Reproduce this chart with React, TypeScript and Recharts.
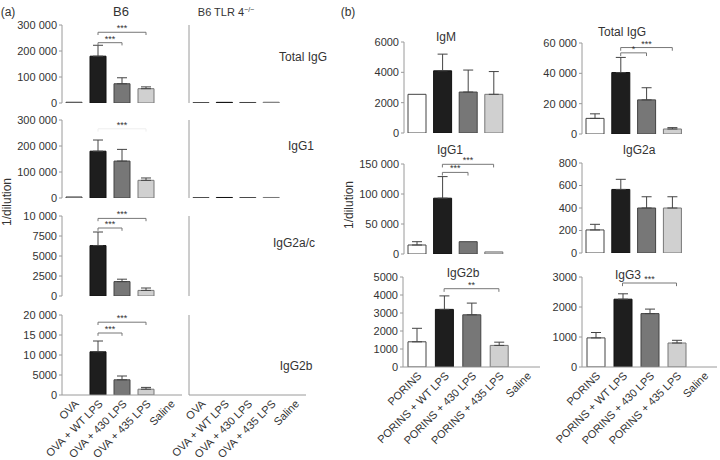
import React from 'react';
import { BarChart, Bar, XAxis, YAxis, Cell, ErrorBar, ReferenceLine } from 'recharts';

const ovaGroups = ['OVA', 'OVA + WT LPS', 'OVA + 430 LPS', 'OVA + 435 LPS', 'Saline'];
const porinGroups = ['PORINS', 'PORINS + WT LPS', 'PORINS + 430 LPS', 'PORINS + 435 LPS', 'Saline'];

// panel (a) - B6
const b6TotalIgG = [3000, 180000, 74000, 55000, 0];
const b6TotalIgGErr = [0, 42000, 23000, 7000, 0];
const b6IgG1 = [4000, 180000, 142000, 68000, 0];
const b6IgG1Err = [0, 43000, 45000, 9000, 0];
const b6IgG2ac = [0, 6300, 1800, 700, 0];
const b6IgG2acErr = [0, 1700, 300, 300, 0];
const b6IgG2b = [0, 10800, 3800, 1450, 0];
const b6IgG2bErr = [0, 2700, 950, 450, 0];

// panel (a) - B6 TLR4-/-
const tlrTotalIgG = [1500, 2500, 2000, 3000, 0];
const tlrIgG1 = [1500, 2000, 1500, 2000, 0];
const tlrIgG2ac = [0, 0, 0, 0, 0];
const tlrIgG2b = [0, 0, 0, 0, 0];
const noErr = [0, 0, 0, 0, 0];

// panel (b)
const pIgM = [2550, 4100, 2700, 2550, 0];
const pIgMErr = [0, 1100, 1450, 1500, 0];
const pTotalIgG = [10300, 40500, 22500, 3300, 0];
const pTotalIgGErr = [3000, 10000, 8000, 900, 0];
const pIgG1 = [15000, 93000, 20500, 3500, 0];
const pIgG1Err = [5500, 36000, 0, 0, 0];
const pIgG2a = [205, 565, 400, 400, 0];
const pIgG2aErr = [50, 90, 100, 100, 0];
const pIgG2b = [1400, 3200, 2900, 1200, 0];
const pIgG2bErr = [750, 750, 650, 180, 0];
const pIgG3 = [970, 2260, 1780, 800, 0];
const pIgG3Err = [180, 180, 150, 90, 0];

const fills = ['#ffffff', '#1e1e1e', '#777777', '#d0d0d0', '#ffffff'];
const strokes = ['#444444', '#111111', '#444444', '#777777', '#444444'];
const axisColor = '#9a9a9a';
const font = '"Liberation Sans", Arial, Helvetica, sans-serif';

type Bracket = { from: number; to: number; y: number; label: string; color?: string };

const fmt = (v: number) => (v >= 10000 ? String(v).replace(/\B(?=(\d{3})+(?!\d))/g, ' ') : String(v));

function Plot(props: {
  x: number; y: number; w: number; h: number;
  groups: string[]; values: number[]; errs: number[];
  max: number; ticks: number[]; showY?: boolean; showX?: boolean; xH?: number;
  barSize: number; brackets?: Bracket[];
}) {
  const { x, y, w, h, groups, values, errs, max, ticks, showY = true, showX = false, xH = 62, barSize, brackets = [] } = props;
  const yW = 60;
  const mt = 20;
  const bottom = showX ? xH : 0;
  const data = groups.map((name, i) => ({
    name,
    value: values[i],
    err: errs[i] > 0 ? [0, errs[i]] : null,
  }));
  const tick = max * 0.035;
  return (
    <div style={{ position: 'absolute', left: x - yW, top: y - mt }}>
      <BarChart width={yW + w} height={mt + h + bottom + 6} data={data} margin={{ top: mt, right: 0, left: 0, bottom: 6 }}>
        <XAxis
          dataKey="name"
          interval={0}
          height={bottom}
          axisLine={{ stroke: axisColor }}
          tickLine={false}
          tickSize={3}
          tickMargin={1}
          angle={-45}
          textAnchor="end"
          tick={showX ? { fontSize: 11, fill: '#333', fontFamily: font } : false}
        />
        <YAxis
          width={yW}
          domain={[0, max]}
          ticks={ticks}
          interval={0}
          tickFormatter={fmt}
          tickSize={3}
          tickMargin={2}
          axisLine={{ stroke: axisColor }}
          tickLine={{ stroke: axisColor }}
          tick={showY ? { fontSize: 11, fill: '#333', fontFamily: font } : false}
          allowDataOverflow
        />
        <Bar dataKey="value" barSize={barSize} isAnimationActive={false}>
          {data.map((d, i) => (
            <Cell key={d.name} fill={fills[i]} stroke={strokes[i]} strokeWidth={1} />
          ))}
          <ErrorBar dataKey="err" width={5} stroke="#444" strokeWidth={1} direction="y" />
        </Bar>
        {brackets.map((b, i) => {
          const c = b.color || '#777';
          return [
            <ReferenceLine
              key={'h' + i}
              segment={[{ x: groups[b.from], y: b.y }, { x: groups[b.to], y: b.y }]}
              stroke={c}
              label={{ value: b.label, position: 'top', fontSize: 9, fill: '#333', offset: 1, fontFamily: font }}
            />,
            <ReferenceLine key={'l' + i} segment={[{ x: groups[b.from], y: b.y }, { x: groups[b.from], y: b.y - tick }]} stroke={c} />,
            <ReferenceLine key={'r' + i} segment={[{ x: groups[b.to], y: b.y }, { x: groups[b.to], y: b.y - tick }]} stroke={c} />,
          ];
        })}
      </BarChart>
    </div>
  );
}

function Label(props: { x: number; y: number; size?: number; rotate?: boolean; children: React.ReactNode }) {
  const { x, y, size = 12, rotate = false, children } = props;
  return (
    <div
      style={{
        position: 'absolute',
        left: x,
        top: y,
        transform: `translate(-50%, -50%)${rotate ? ' rotate(-90deg)' : ''}`,
        fontSize: size,
        fontFamily: font,
        color: '#333',
        whiteSpace: 'nowrap',
        lineHeight: 1,
      }}
    >
      {children}
    </div>
  );
}

export default function App() {
  const aT = [0, 100000, 200000, 300000];
  const a2 = [0, 2500, 5000, 7500, 10000];
  const a3 = [0, 5000, 10000, 15000, 20000];
  return (
    <div style={{ position: 'absolute', left: 0, top: 0, width: 720, height: 460, background: '#fff', overflow: 'hidden' }}>
      {/* panel (a), B6 */}
      <Plot x={62} y={25} w={120} h={78} groups={ovaGroups} values={b6TotalIgG} errs={b6TotalIgGErr} max={300000} ticks={aT} barSize={16}
        brackets={[{ from: 1, to: 2, y: 232000, label: '***' }, { from: 1, to: 3, y: 272000, label: '***' }]} />
      <Plot x={62} y={120} w={120} h={78} groups={ovaGroups} values={b6IgG1} errs={b6IgG1Err} max={300000} ticks={aT} barSize={16}
        brackets={[{ from: 1, to: 3, y: 266000, label: '***', color: '#eeeeee' }]} />
      <Plot x={62} y={216} w={120} h={80} groups={ovaGroups} values={b6IgG2ac} errs={b6IgG2acErr} max={10000} ticks={a2} barSize={16}
        brackets={[{ from: 1, to: 2, y: 8500, label: '***' }, { from: 1, to: 3, y: 9700, label: '***' }]} />
      <Plot x={62} y={315} w={120} h={80} groups={ovaGroups} values={b6IgG2b} errs={b6IgG2bErr} max={20000} ticks={a3} barSize={16} showX xH={59}
        brackets={[{ from: 1, to: 2, y: 15500, label: '***' }, { from: 1, to: 3, y: 18200, label: '***' }]} />

      {/* panel (a), B6 TLR4-/- */}
      <Plot x={189} y={25} w={117} h={78} groups={ovaGroups} values={tlrTotalIgG} errs={noErr} max={300000} ticks={aT} barSize={16} showY={false} />
      <Plot x={189} y={120} w={117} h={78} groups={ovaGroups} values={tlrIgG1} errs={noErr} max={300000} ticks={aT} barSize={16} showY={false} />
      <Plot x={189} y={216} w={117} h={80} groups={ovaGroups} values={tlrIgG2ac} errs={noErr} max={10000} ticks={a2} barSize={16} showY={false} />
      <Plot x={189} y={315} w={117} h={80} groups={ovaGroups} values={tlrIgG2b} errs={noErr} max={20000} ticks={a3} barSize={16} showY={false} showX xH={59} />

      {/* panel (b) */}
      <Plot x={404} y={42} w={128} h={91} groups={porinGroups} values={pIgM} errs={pIgMErr} max={6000} ticks={[0, 2000, 4000, 6000]} barSize={18} />
      <Plot x={582} y={43} w={129} h={91} groups={porinGroups} values={pTotalIgG} errs={pTotalIgGErr} max={60000} ticks={[0, 20000, 40000, 60000]} barSize={18}
        brackets={[{ from: 1, to: 2, y: 53500, label: '*' }, { from: 1, to: 3, y: 57000, label: '***' }]} />
      <Plot x={404} y={164} w={128} h={90} groups={porinGroups} values={pIgG1} errs={pIgG1Err} max={150000} ticks={[0, 50000, 100000, 150000]} barSize={18}
        brackets={[{ from: 1, to: 2, y: 136000, label: '***' }, { from: 1, to: 3, y: 149500, label: '***' }]} />
      <Plot x={582} y={163} w={129} h={90} groups={porinGroups} values={pIgG2a} errs={pIgG2aErr} max={800} ticks={[0, 200, 400, 600, 800]} barSize={18} />
      <Plot x={403} y={277} w={137} h={90} groups={porinGroups} values={pIgG2b} errs={pIgG2bErr} max={5000} ticks={[0, 1000, 2000, 3000, 4000, 5000]} barSize={18} showX xH={87}
        brackets={[{ from: 1, to: 3, y: 4350, label: '**' }]} />
      <Plot x={582} y={277} w={135} h={90} groups={porinGroups} values={pIgG3} errs={pIgG3Err} max={3000} ticks={[0, 1000, 2000, 3000]} barSize={18} showX xH={87}
        brackets={[{ from: 1, to: 3, y: 2800, label: '***' }]} />

      {/* text */}
      <Label x={8} y={12}>(a)</Label>
      <Label x={121} y={11} size={13}>B6</Label>
      <Label x={226} y={12} size={11}>B6 TLR 4<sup style={{ fontSize: 7 }}>−/−</sup></Label>
      <Label x={303} y={57}>Total IgG</Label>
      <Label x={301} y={146}>IgG1</Label>
      <Label x={294} y={243}>IgG2a/c</Label>
      <Label x={296} y={366}>IgG2b</Label>
      <Label x={7} y={202} rotate>1/dilution</Label>

      <Label x={348} y={12}>(b)</Label>
      <Label x={446} y={37}>IgM</Label>
      <Label x={622} y={32}>Total IgG</Label>
      <Label x={450} y={150}>IgG1</Label>
      <Label x={639} y={150}>IgG2a</Label>
      <Label x={463} y={273}>IgG2b</Label>
      <Label x={628} y={275}>IgG3</Label>
      <Label x={349} y={205} rotate>1/dilution</Label>
    </div>
  );
}
